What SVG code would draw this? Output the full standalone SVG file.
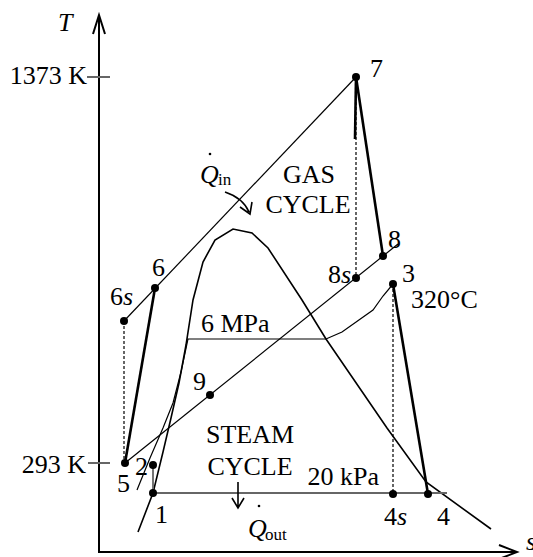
<svg xmlns="http://www.w3.org/2000/svg" width="533" height="557" viewBox="0 0 533 557" font-family="'Liberation Serif', serif">
<style>
text{font-family:'Liberation Serif','DejaVu Serif',serif;font-size:26px;fill:#000}
.it{font-style:italic}
.sub{font-size:17px}
.thin{stroke:#000;stroke-width:1.2;fill:none}
.med{stroke:#000;stroke-width:1.6;fill:none}
.thick{stroke:#000;stroke-width:2.6;fill:none}
.dash{stroke:#000;stroke-width:1.2;stroke-dasharray:3,2;fill:none}
.gray{stroke:#666;stroke-width:1.8;fill:none}
.ax{stroke:#000;stroke-width:2;fill:none}
.dot{fill:#000}
</style>
<rect width="533" height="557" fill="#fff"/>
<g id="axes">
<path class="ax" d="M99,553 V16 M93,34 L99,15 L105,34"/>
<path class="ax" d="M98,552 H516 M499,545 L517,552 L499,559"/>
<path class="gray" stroke-width="1.2" d="M87,77 H110 M88,463 H110"/>
<text x="58" y="31" class="it">T</text>
<text x="87" y="84" text-anchor="end">1373 K</text>
<text x="86" y="473" text-anchor="end">293 K</text>
<text x="526" y="550" class="it">s</text>
</g>
<g id="connectors">
<polyline class="med" points="138,532 153,493 163,452 171,418 179,383 186,345 193,300 203,262 215,240 233,229 252,233 268,248 302,300 326,339 387,428 426,482 491,529"/>
<polyline class="thin" points="137,490 150,458 163,428 173,403 181,372 188,339"/>
<polyline class="thin" points="187,339 326,339 342,332 373,310 383,296 393,284"/>
<line class="thin" x1="124" y1="321" x2="356" y2="77"/>
<line class="thin" x1="125" y1="463" x2="398" y2="244"/>
<line class="thick" x1="125" y1="463" x2="155" y2="288"/>
<line class="thick" x1="356" y1="77" x2="383" y2="256"/>
<line class="thick" x1="356" y1="77" x2="355" y2="139"/>
<line class="thick" x1="393" y1="284" x2="428" y2="494"/>
<line class="dash" x1="124" y1="321" x2="124" y2="463"/>
<line class="dash" x1="356" y1="77" x2="356" y2="278"/>
<line class="dash" x1="393" y1="284" x2="393" y2="494"/>
<line class="gray" x1="153" y1="493" x2="447" y2="493"/>
<line class="gray" x1="153" y1="465" x2="153" y2="493"/>
</g>
<g id="p7"><circle class="dot" cx="356" cy="77" r="4"/><text x="370" y="77">7</text></g>
<g id="p6"><circle class="dot" cx="155" cy="288" r="4"/><text x="152" y="276">6</text></g>
<g id="p6s"><circle class="dot" cx="124" cy="321" r="4"/><text x="110" y="305">6<tspan class="it">s</tspan></text></g>
<g id="p8"><circle class="dot" cx="383" cy="256" r="4"/><text x="388" y="248">8</text></g>
<g id="p8s"><circle class="dot" cx="356" cy="278" r="4"/><text x="328" y="283">8<tspan class="it">s</tspan></text></g>
<g id="p3"><circle class="dot" cx="393" cy="284" r="4"/><text x="402" y="282">3</text><text x="411" y="308">320°C</text></g>
<g id="p9"><circle class="dot" cx="210" cy="395" r="4"/><text x="193" y="390">9</text></g>
<g id="p5"><circle class="dot" cx="125" cy="463" r="4"/><text x="117" y="492">5</text></g>
<g id="p2"><circle class="dot" cx="153" cy="465" r="4"/><text x="135" y="475">2</text></g>
<g id="p1"><circle class="dot" cx="153" cy="493" r="4"/><text x="155" y="523">1</text></g>
<g id="p4s"><circle class="dot" cx="393" cy="494" r="4"/><text x="384" y="525">4<tspan class="it">s</tspan></text></g>
<g id="p4"><circle class="dot" cx="428" cy="494" r="4"/><text x="437" y="525">4</text></g>
<g id="labels">
<text x="201" y="332">6 MPa</text>
<text x="379" y="485" text-anchor="end">20 kPa</text>
<text x="309" y="183" text-anchor="middle">GAS</text>
<text x="308" y="213" text-anchor="middle">CYCLE</text>
<text x="250" y="443" text-anchor="middle">STEAM</text>
<text x="250" y="475" text-anchor="middle">CYCLE</text>
</g>
<g id="qin">
<text x="200" y="183" class="it">Q</text><text x="218" y="185" class="sub">in</text>
<circle class="dot" cx="210" cy="154" r="1.3"/>
<path class="med" stroke-width="2" d="M225,192 Q243,198 249,212 M240,207 L250,214 L252,202"/>
</g>
<g id="qout">
<text x="248" y="537" class="it">Q</text><text x="265" y="540" class="sub">out</text>
<circle class="dot" cx="259" cy="506" r="1.3"/>
<path class="med" stroke-width="2" d="M238,482 V507 M232,498 L238,508 L244,498"/>
</g>
</svg>
